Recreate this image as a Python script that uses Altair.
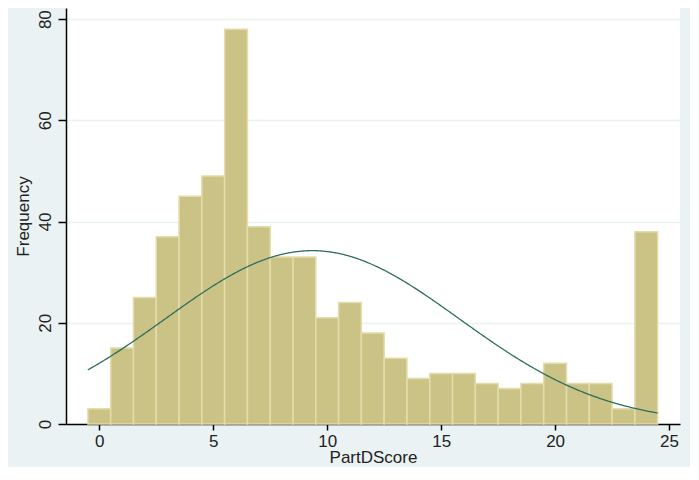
import altair as alt
import pandas as pd
import math

# Histogram of PartDScore (bin width 1, centred on integers)
scores = list(range(25))
frequency = [3, 15, 25, 37, 45, 49, 78, 39, 33, 33, 21, 24, 18, 13, 9,
             10, 10, 8, 7, 8, 12, 8, 8, 3, 38]
x_ticks = [0, 5, 10, 15, 20, 25]
y_ticks = [0, 20, 40, 60, 80]

bars = pd.DataFrame({
    "score": scores,
    "lo": [s - 0.5 for s in scores],
    "hi": [s + 0.5 for s in scores],
    "freq": frequency,
})

# normal overlay fitted to the histogram (as Stata's "normal" option)
n = sum(frequency)
mean = sum(s * f for s, f in zip(scores, frequency)) / n
var = sum(f * (s - mean) ** 2 for s, f in zip(scores, frequency)) / (n - 1)
sd = math.sqrt(var)

FONT = "Liberation Sans"
BAR_FILL = "#CBC385"
BAR_EDGE = "#E4DDAB"
CURVE = "#2F6E5F"
BG = "#EAF2F3"

xscale = alt.Scale(domain=[-1.46, 25.48], nice=False, zero=False)
yscale = alt.Scale(domain=[0, 82.2], nice=False)

base = alt.Chart(bars)

hist = base.mark_bar(fill=BAR_FILL, stroke=BAR_EDGE, strokeWidth=1.5).encode(
    x=alt.X("lo:Q", scale=xscale,
            axis=alt.Axis(values=x_ticks, title="PartDScore", grid=False,
                          domainColor="black", domainWidth=1.5,
                          tickColor="black", tickWidth=1.5, tickSize=6,
                          labelFont=FONT, labelFontSize=17, labelColor="#222",
                          labelPadding=3, titleFont=FONT, titleFontSize=17,
                          titleFontWeight="normal", titleColor="#222",
                          titlePadding=0)),
    x2="hi:Q",
    y=alt.Y("freq:Q", scale=yscale,
            axis=alt.Axis(values=y_ticks, title="Frequency", grid=True,
                          gridColor=BG, gridWidth=1.5,
                          domainColor="black", domainWidth=1.5,
                          tickColor="black", tickWidth=1.5, tickSize=8,
                          labelAngle=270, labelAlign="center",
                          labelBaseline="bottom", labelPadding=4,
                          labelFont=FONT, labelFontSize=17, labelColor="#222",
                          titleFont=FONT, titleFontSize=17,
                          titleFontWeight="normal", titleColor="#222",
                          titlePadding=4)),
    y2=alt.datum(0),
)

curve = alt.Chart(alt.sequence(-0.5, 24.5001, 0.05, as_="x")).transform_calculate(
    y=f"{n} * exp(-0.5 * pow((datum.x - {mean}) / {sd}, 2)) / ({sd} * sqrt(2 * PI))"
).mark_line(color=CURVE, strokeWidth=1.3).encode(
    x=alt.X("x:Q", scale=xscale),
    y=alt.Y("y:Q", scale=yscale),
)

chart = alt.layer(hist, curve).properties(
    width=614,
    height=416,
    background=BG,
    padding={"left": 58, "top": 0, "right": 10, "bottom": 43},
    autosize=alt.AutoSizeParams(type="none"),
).configure_view(fill="white", stroke=None)

chart.save("out.html", embed_options={"renderer": "svg", "actions": False})
